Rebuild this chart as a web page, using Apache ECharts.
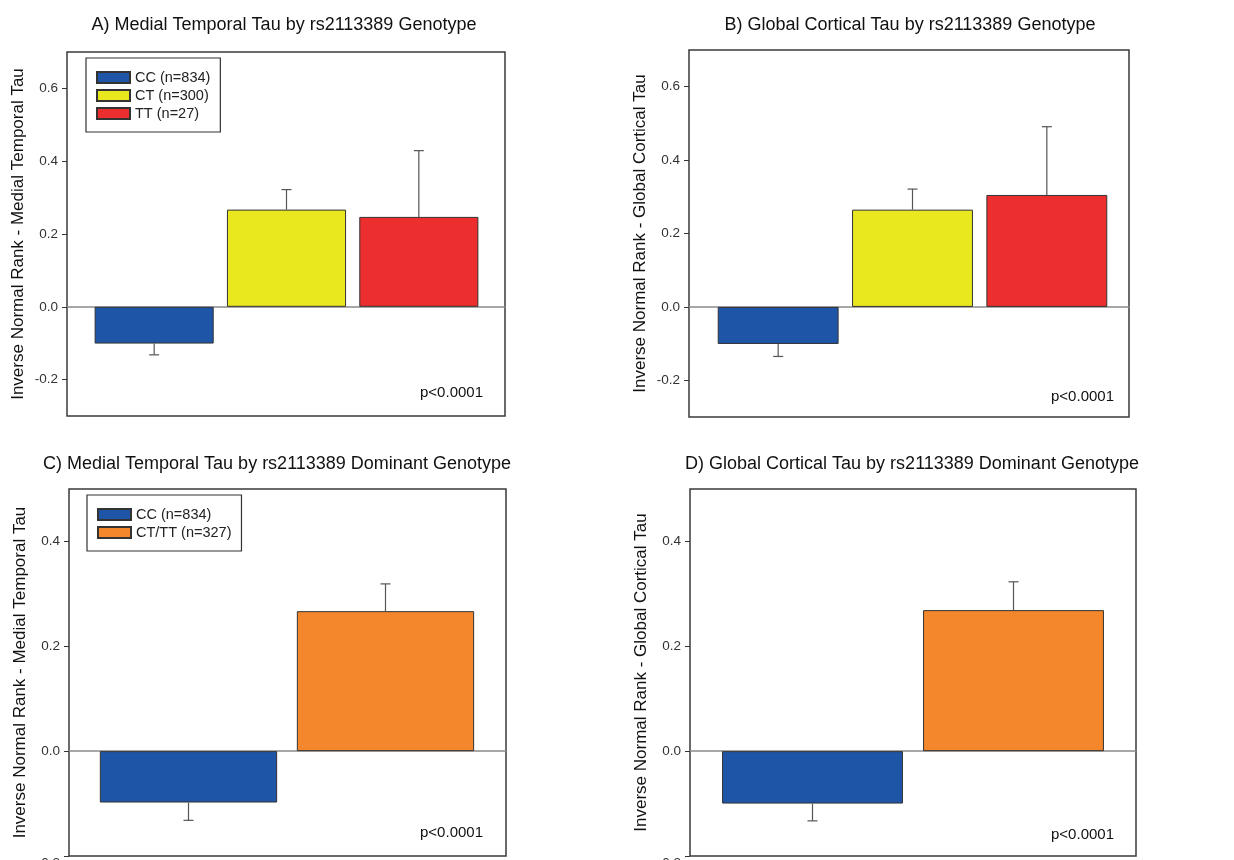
<!DOCTYPE html>
<html>
<head>
<meta charset="utf-8">
<script src="https://cdn.jsdelivr.net/npm/echarts@6/dist/echarts.min.js"></script>
<style>
  html, body { margin: 0; padding: 0; background: #fff; }
  #chart { width: 1234px; height: 860px; }
</style>
</head>
<body>
<div id="chart"></div>
<script>
// data
const genotypes = ['CC (n=834)', 'CT (n=300)', 'TT (n=27)']
const dominantGroups = ['CC (n=834)', 'CT/TT (n=327)']

const medialByGenotype = [-0.101, 0.267, 0.247]
const medialByGenotypeErr = [0.031, 0.055, 0.182]
const globalByGenotype = [-0.101, 0.265, 0.305]
const globalByGenotypeErr = [0.034, 0.056, 0.186]
const medialByDominant = [-0.098, 0.267]
const medialByDominantErr = [0.034, 0.052]
const globalByDominant = [-0.100, 0.269]
const globalByDominantErr = [0.033, 0.054]

const ticksTop = [-0.2, 0, 0.2, 0.4, 0.6]
const ticksBottom = [-0.2, 0, 0.2, 0.4]
const pLabel = 'p<0.0001'

const FONT = "'Liberation Sans', Arial, sans-serif"
const colorsGenotype = ['#1f55a6', '#e9e81f', '#ec2e2e']
const colorsDominant = ['#1f55a6', '#f4862b']

const panels = [
  {
    title: 'A) Medial Temporal Tau by rs2113389 Genotype', titleX: 284, titleY: 16,
    yName: 'Inverse Normal Rank - Medial Temporal Tau',
    cats: genotypes, values: medialByGenotype, errs: medialByGenotypeErr, colors: colorsGenotype,
    min: -0.3, max: 0.7, ticks: ticksTop,
    frame: { left: 67, top: 52, width: 438, height: 364 },
    bars: { left: 88, width: 397 },
    pX: 483, pY: 385, legend: { left: 86, top: 58 }
  },
  {
    title: 'B) Global Cortical Tau by rs2113389 Genotype', titleX: 910, titleY: 16,
    yName: 'Inverse Normal Rank - Global Cortical Tau',
    cats: genotypes, values: globalByGenotype, errs: globalByGenotypeErr, colors: colorsGenotype,
    min: -0.3, max: 0.7, ticks: ticksTop,
    frame: { left: 689, top: 50, width: 440, height: 367 },
    bars: { left: 711, width: 403 },
    pX: 1114, pY: 389
  },
  {
    title: 'C) Medial Temporal Tau by rs2113389 Dominant Genotype', titleX: 277, titleY: 455,
    yName: 'Inverse Normal Rank - Medial Temporal Tau',
    cats: dominantGroups, values: medialByDominant, errs: medialByDominantErr, colors: colorsDominant,
    min: -0.2, max: 0.5, ticks: ticksBottom,
    frame: { left: 69, top: 489, width: 437, height: 367 },
    bars: { left: 90, width: 394 },
    pX: 483, pY: 825, legend: { left: 87, top: 495 }, lowLabelDrop: true
  },
  {
    title: 'D) Global Cortical Tau by rs2113389 Dominant Genotype', titleX: 912, titleY: 455,
    yName: 'Inverse Normal Rank - Global Cortical Tau',
    cats: dominantGroups, values: globalByDominant, errs: globalByDominantErr, colors: colorsDominant,
    min: -0.2, max: 0.5, ticks: ticksBottom,
    frame: { left: 690, top: 489, width: 446, height: 367 },
    bars: { left: 712, width: 402 },
    pX: 1114, pY: 827, lowLabelDrop: true
  }
]

function renderErr(params, api) {
  const x = api.value(0)
  const v = api.value(1)
  const e = api.value(2)
  const p0 = api.coord([x, v])
  const p1 = api.coord([x, v < 0 ? v - e : v + e])
  const half = 5
  const style = { stroke: '#555', lineWidth: 1.2 }
  return {
    type: 'group',
    children: [
      { type: 'line', shape: { x1: p0[0], y1: p0[1], x2: p1[0], y2: p1[1] }, style },
      { type: 'line', shape: { x1: p1[0] - half, y1: p1[1], x2: p1[0] + half, y2: p1[1] }, style }
    ]
  }
}

const grid = []
const xAxis = []
const yAxis = []
const series = []
const title = []
const legend = []

panels.forEach((p, k) => {
  const frameIdx = grid.length
  grid.push({
    left: p.frame.left, top: p.frame.top, width: p.frame.width, height: p.frame.height,
    outerBoundsMode: 'none', containLabel: false,
    show: true, borderColor: '#3a3a3a', borderWidth: 1.5, backgroundColor: 'transparent'
  })
  const barIdx = grid.length
  grid.push({
    left: p.bars.left, top: p.frame.top, width: p.bars.width, height: p.frame.height,
    outerBoundsMode: 'none', containLabel: false
  })

  // frame axes: visible y axis and the zero line
  xAxis.push({
    gridIndex: frameIdx, type: 'value', min: 0, max: 1,
    axisLine: { show: true, onZero: true, lineStyle: { color: '#8a8a8a', width: 1.5 } },
    axisTick: { show: false }, axisLabel: { show: false }, splitLine: { show: false }
  })
  yAxis.push({
    gridIndex: frameIdx, type: 'value', min: p.min, max: p.max,
    name: p.yName, nameLocation: 'middle', nameGap: 40,
    nameTextStyle: { fontFamily: FONT, fontSize: 17, color: '#111' },
    axisLine: { show: false },
    axisTick: { show: true, inside: false, length: 5, customValues: p.ticks, lineStyle: { color: '#333' } },
    axisLabel: {
      customValues: p.ticks, margin: 9, fontFamily: FONT, fontSize: 13.5, color: '#333',
      formatter: v => (p.lowLabelDrop && v === p.min ? '{low|' + v.toFixed(1) + '}' : v.toFixed(1)),
      rich: { low: { fontFamily: FONT, fontSize: 13.5, color: '#333', padding: [14, 0, 0, 0] } }
    },
    splitLine: { show: false }
  })
  // bar axes (hidden)
  xAxis.push({ gridIndex: barIdx, type: 'category', data: p.cats, show: false })
  yAxis.push({ gridIndex: barIdx, type: 'value', min: p.min, max: p.max, show: false, splitLine: { show: false } })

  const xi = xAxis.length - 1
  const yi = yAxis.length - 1
  p.cats.forEach((name, i) => {
    series.push({
      name, type: 'bar', xAxisIndex: xi, yAxisIndex: yi, stack: 'panel' + k,
      barCategoryGap: '10%',
      itemStyle: { color: p.colors[i], borderColor: '#333', borderWidth: 1 },
      data: p.cats.map((c, j) => (j === i ? p.values[i] : '-')),
      animation: false
    })
  })
  series.push({
    type: 'custom', xAxisIndex: xi, yAxisIndex: yi, renderItem: renderErr,
    encode: { x: 0, y: 1 }, z: 5,
    data: p.values.map((v, i) => [i, v, p.errs[i]]),
    animation: false
  })

  title.push({
    text: p.title, left: p.titleX, top: p.titleY, textAlign: 'center', padding: 0,
    textStyle: { fontFamily: FONT, fontSize: 18, fontWeight: 'normal', color: '#111' }
  })
  title.push({
    text: pLabel, left: p.pX, top: p.pY, textAlign: 'right', padding: 0,
    textStyle: { fontFamily: FONT, fontSize: 15, fontWeight: 'normal', color: '#111' }
  })

  if (p.legend) {
    legend.push({
      data: p.cats, left: p.legend.left, top: p.legend.top, orient: 'vertical',
      icon: 'rect', itemWidth: 33, itemHeight: 11, itemGap: 3,
      padding: [12, 10, 11, 10], borderColor: '#333', borderWidth: 1.2,
      selectedMode: false,
      textStyle: { fontFamily: FONT, fontSize: 14.5, color: '#222', lineHeight: 14 }
    })
  }
})

const myChart = echarts.init(document.getElementById('chart'))
myChart.setOption({
  animation: false,
  backgroundColor: '#fff',
  title, legend, grid, xAxis, yAxis, series
})
</script>
</body>
</html>
